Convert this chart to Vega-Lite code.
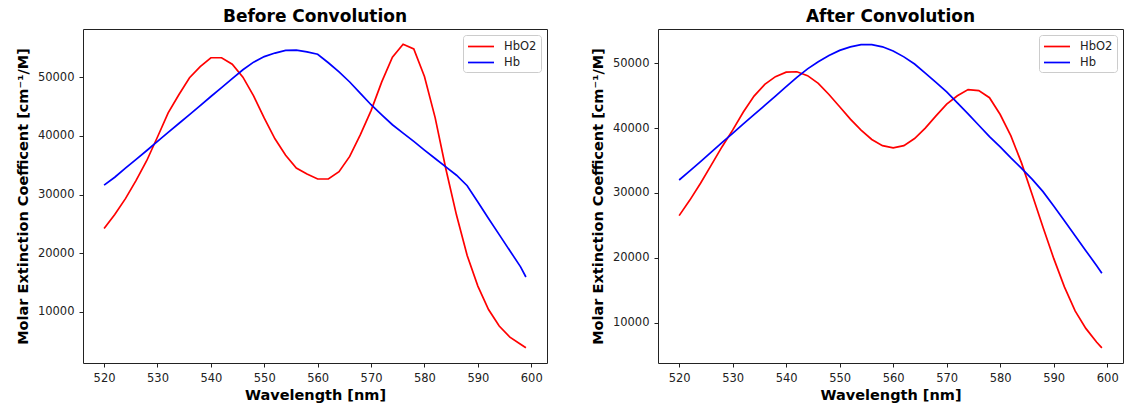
{
  "$schema": "https://vega.github.io/schema/vega-lite/v6.json",
  "padding": {"left": 14, "top": 7, "right": 0, "bottom": 0},
  "datasets": {
    "before": [
      {"wl": 520, "HbO2": 24200, "Hb": 31600},
      {"wl": 522, "HbO2": 26600, "Hb": 32950},
      {"wl": 524, "HbO2": 29300, "Hb": 34500},
      {"wl": 526, "HbO2": 32400, "Hb": 36000},
      {"wl": 528, "HbO2": 35800, "Hb": 37500},
      {"wl": 530, "HbO2": 39800, "Hb": 39050},
      {"wl": 532, "HbO2": 43900, "Hb": 40600},
      {"wl": 534, "HbO2": 47000, "Hb": 42100},
      {"wl": 536, "HbO2": 49900, "Hb": 43600},
      {"wl": 538, "HbO2": 51800, "Hb": 45150},
      {"wl": 540, "HbO2": 53300, "Hb": 46700},
      {"wl": 542, "HbO2": 53300, "Hb": 48200},
      {"wl": 544, "HbO2": 52200, "Hb": 49750},
      {"wl": 546, "HbO2": 50000, "Hb": 51250},
      {"wl": 548, "HbO2": 46800, "Hb": 52550},
      {"wl": 550, "HbO2": 43000, "Hb": 53500},
      {"wl": 552, "HbO2": 39500, "Hb": 54100},
      {"wl": 554, "HbO2": 36700, "Hb": 54550},
      {"wl": 556, "HbO2": 34500, "Hb": 54600},
      {"wl": 558, "HbO2": 33500, "Hb": 54300},
      {"wl": 560, "HbO2": 32650, "Hb": 53900},
      {"wl": 562, "HbO2": 32650, "Hb": 52450},
      {"wl": 564, "HbO2": 33900, "Hb": 50900},
      {"wl": 566, "HbO2": 36500, "Hb": 49170},
      {"wl": 568, "HbO2": 40200, "Hb": 47230},
      {"wl": 570, "HbO2": 44300, "Hb": 45300},
      {"wl": 572, "HbO2": 49200, "Hb": 43570},
      {"wl": 574, "HbO2": 53400, "Hb": 41890},
      {"wl": 576, "HbO2": 55600, "Hb": 40470},
      {"wl": 578, "HbO2": 54800, "Hb": 39050},
      {"wl": 580, "HbO2": 50100, "Hb": 37570},
      {"wl": 582, "HbO2": 43100, "Hb": 36140},
      {"wl": 584, "HbO2": 34400, "Hb": 34720},
      {"wl": 586, "HbO2": 26500, "Hb": 33290},
      {"wl": 588, "HbO2": 19600, "Hb": 31510},
      {"wl": 590, "HbO2": 14400, "Hb": 28740},
      {"wl": 592, "HbO2": 10400, "Hb": 25910},
      {"wl": 594, "HbO2": 7600, "Hb": 23170},
      {"wl": 596, "HbO2": 5700, "Hb": 20420},
      {"wl": 598, "HbO2": 4500, "Hb": 17680},
      {"wl": 599, "HbO2": 3900, "Hb": 15950}
    ],
    "after": [
      {"wl": 520, "HbO2": 26500, "Hb": 32000},
      {"wl": 522, "HbO2": 28900, "Hb": 33400},
      {"wl": 524, "HbO2": 31500, "Hb": 34850},
      {"wl": 526, "HbO2": 34300, "Hb": 36300},
      {"wl": 528, "HbO2": 37100, "Hb": 37750},
      {"wl": 530, "HbO2": 39700, "Hb": 39200},
      {"wl": 532, "HbO2": 42500, "Hb": 40650},
      {"wl": 534, "HbO2": 44950, "Hb": 42100},
      {"wl": 536, "HbO2": 46750, "Hb": 43500},
      {"wl": 538, "HbO2": 47950, "Hb": 44950},
      {"wl": 540, "HbO2": 48650, "Hb": 46400},
      {"wl": 542, "HbO2": 48700, "Hb": 47850},
      {"wl": 544, "HbO2": 48100, "Hb": 49150},
      {"wl": 546, "HbO2": 46900, "Hb": 50250},
      {"wl": 548, "HbO2": 45200, "Hb": 51200},
      {"wl": 550, "HbO2": 43300, "Hb": 52000},
      {"wl": 552, "HbO2": 41400, "Hb": 52550},
      {"wl": 554, "HbO2": 39700, "Hb": 52900},
      {"wl": 556, "HbO2": 38250, "Hb": 52900},
      {"wl": 558, "HbO2": 37300, "Hb": 52550},
      {"wl": 560, "HbO2": 36950, "Hb": 51900},
      {"wl": 562, "HbO2": 37300, "Hb": 51000},
      {"wl": 564, "HbO2": 38400, "Hb": 49900},
      {"wl": 566, "HbO2": 40000, "Hb": 48500},
      {"wl": 568, "HbO2": 41900, "Hb": 47050},
      {"wl": 570, "HbO2": 43700, "Hb": 45600},
      {"wl": 572, "HbO2": 45000, "Hb": 43900},
      {"wl": 574, "HbO2": 45950, "Hb": 42200},
      {"wl": 576, "HbO2": 45800, "Hb": 40450},
      {"wl": 578, "HbO2": 44700, "Hb": 38700},
      {"wl": 580, "HbO2": 42100, "Hb": 37100},
      {"wl": 582, "HbO2": 38800, "Hb": 35400},
      {"wl": 584, "HbO2": 34600, "Hb": 33800},
      {"wl": 586, "HbO2": 29700, "Hb": 32100},
      {"wl": 588, "HbO2": 24700, "Hb": 30200},
      {"wl": 590, "HbO2": 19900, "Hb": 28000},
      {"wl": 592, "HbO2": 15500, "Hb": 25700},
      {"wl": 594, "HbO2": 11800, "Hb": 23400},
      {"wl": 596, "HbO2": 9100, "Hb": 21100},
      {"wl": 598, "HbO2": 7000, "Hb": 18800},
      {"wl": 599, "HbO2": 6100, "Hb": 17600}
    ]
  },
  "config": {
    "font": "DejaVu Sans",
    "view": {"stroke": "#222222", "strokeWidth": 1},
    "axis": {
      "grid": false,
      "domain": false,
      "tickColor": "#222222",
      "tickSize": 4,
      "labelFont": "DejaVu Sans",
      "labelFontSize": 11.5,
      "labelColor": "#222222",
      "labelPadding": 5,
      "titleFont": "DejaVu Sans",
      "titleFontSize": 14.5,
      "titleFontWeight": "bold",
      "titleColor": "#000000",
      "titlePadding": 5
    },
    "title": {"font": "DejaVu Sans", "fontSize": 17, "fontWeight": "bold", "color": "#000000", "offset": 3},
    "concat": {"spacing": 41}
  },
  "resolve": {"scale": {"color": "independent"}, "legend": {"color": "independent"}},
  "hconcat": [
    {
      "title": "Before Convolution",
      "width": 464,
      "height": 334,
      "data": {"name": "before"},
      "transform": [{"fold": ["HbO2", "Hb"], "as": ["series", "value"]}],
      "mark": {"type": "line", "strokeWidth": 1.7, "clip": true},
      "encoding": {
        "x": {"field": "wl", "type": "quantitative", "scale": {"domain": [516.05, 602.95], "nice": false, "zero": false}, "axis": {"values": [520, 530, 540, 550, 560, 570, 580, 590, 600], "format": "d", "title": "Wavelength [nm]"}},
        "y": {"field": "value", "type": "quantitative", "scale": {"domain": [1300, 58200], "nice": false, "zero": false}, "axis": {"values": [10000, 20000, 30000, 40000, 50000], "format": "d", "titlePadding": 7, "title": "Molar Extinction Coefficent [cm⁻¹/M]"}},
        "color": {"field": "series", "type": "nominal", "scale": {"domain": ["HbO2", "Hb"], "range": ["#ff0000", "#0000ff"]},
          "legend": {"title": null, "orient": "top-right", "symbolType": "M-1,0H3", "symbolStrokeWidth": 1.7, "symbolSize": 169, "labelFont": "DejaVu Sans", "labelFontSize": 11.5, "labelColor": "#222222", "labelOffset": 22, "rowPadding": 3, "padding": 4, "offset": 6, "fillColor": "#ffffff", "strokeColor": "#cccccc", "cornerRadius": 3}}
      }
    },
    {
      "title": "After Convolution",
      "width": 465,
      "height": 334,
      "data": {"name": "after"},
      "transform": [{"fold": ["HbO2", "Hb"], "as": ["series", "value"]}],
      "mark": {"type": "line", "strokeWidth": 1.7, "clip": true},
      "encoding": {
        "x": {"field": "wl", "type": "quantitative", "scale": {"domain": [516.05, 602.95], "nice": false, "zero": false}, "axis": {"values": [520, 530, 540, 550, 560, 570, 580, 590, 600], "format": "d", "title": "Wavelength [nm]"}},
        "y": {"field": "value", "type": "quantitative", "scale": {"domain": [3760, 55300], "nice": false, "zero": false}, "axis": {"values": [10000, 20000, 30000, 40000, 50000], "format": "d", "titlePadding": 7, "title": "Molar Extinction Coefficent [cm⁻¹/M]"}},
        "color": {"field": "series", "type": "nominal", "scale": {"domain": ["HbO2", "Hb"], "range": ["#ff0000", "#0000ff"]},
          "legend": {"title": null, "orient": "top-right", "symbolType": "M-1,0H3", "symbolStrokeWidth": 1.7, "symbolSize": 169, "labelFont": "DejaVu Sans", "labelFontSize": 11.5, "labelColor": "#222222", "labelOffset": 22, "rowPadding": 3, "padding": 4, "offset": 6, "fillColor": "#ffffff", "strokeColor": "#cccccc", "cornerRadius": 3}}
      }
    }
  ]
}
